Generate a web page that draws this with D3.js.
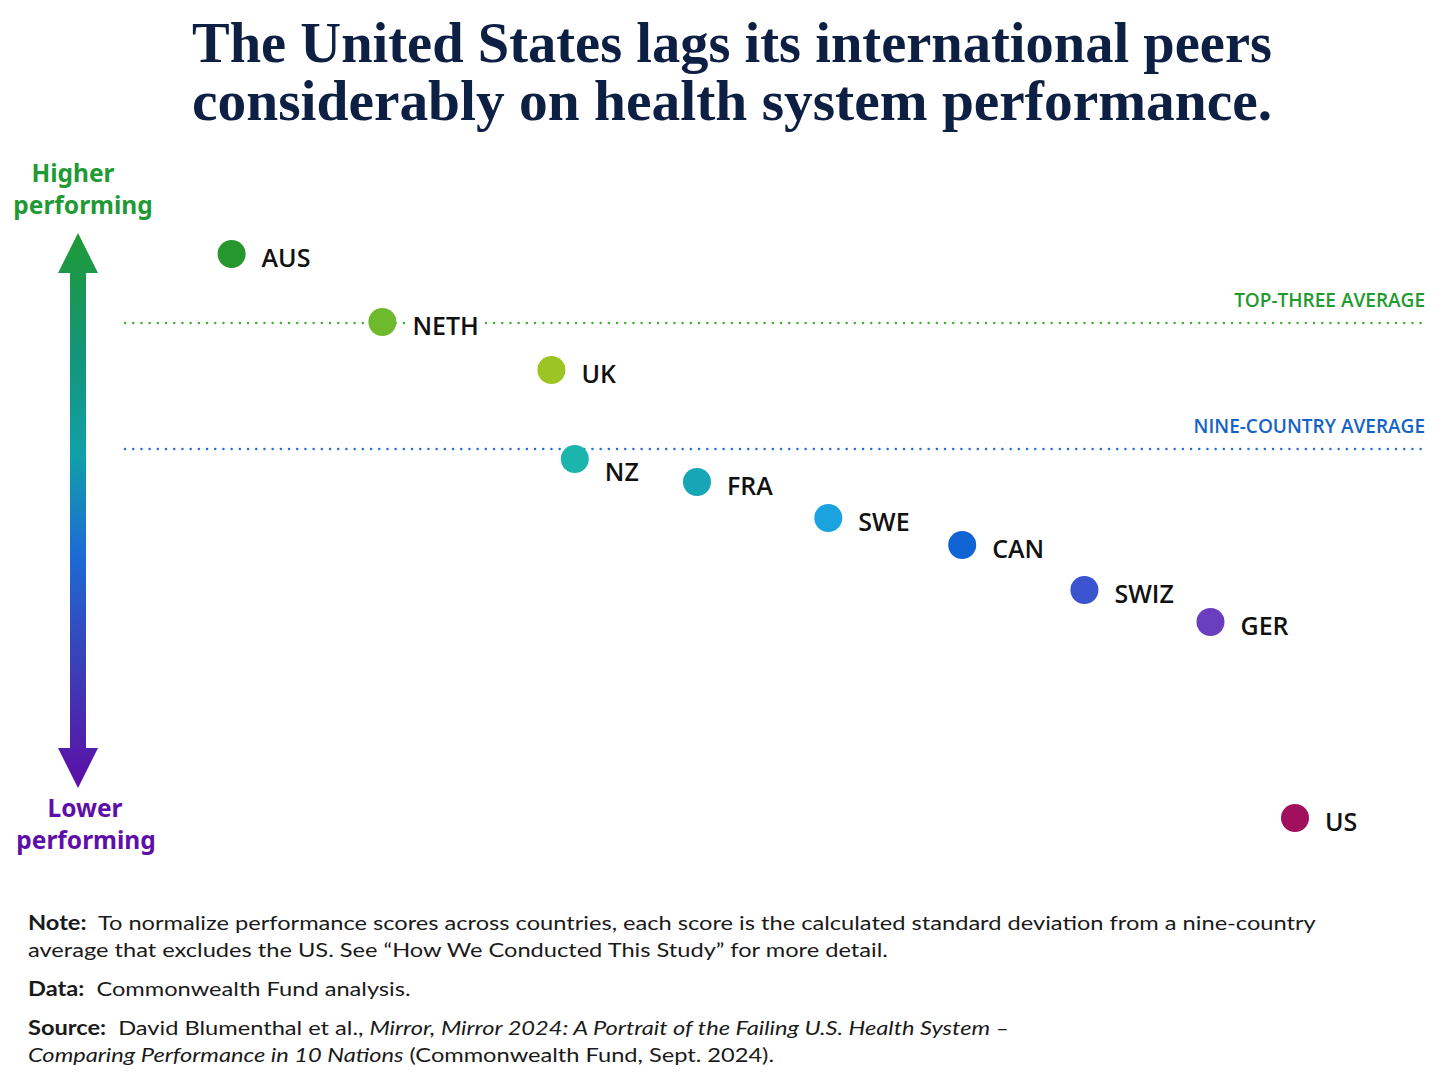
<!DOCTYPE html>
<html>
<head>
<meta charset="utf-8">
<script src="https://cdn.jsdelivr.net/npm/d3@7"></script>
<style>
  body { margin: 0; background: #fff; }
  svg { display: block; }
</style>
</head>
<body>
<div id="chart"></div>
<script>
// country scores: standard deviations from the nine-country average (US excluded)
const countries = ["AUS", "NETH", "UK", "NZ", "FRA", "SWE", "CAN", "SWIZ", "GER", "US"];
const scores = [0.39, 0.254, 0.158, -0.02, -0.066, -0.138, -0.192, -0.282, -0.346, -0.738];
// horizontal placement (rank spread), 0-100
const spread = [8.2, 19.8, 32.8, 34.6, 44, 54.1, 64.4, 73.8, 83.5, 90];
const dotColors = ["#26962f", "#6fb92c", "#9cc524", "#1cb5ae", "#17a6b5", "#1ba3e0",
                   "#0f63d3", "#3a53cf", "#6a3fbf", "#a0105c"];
const averages = [
  {name: "TOP-THREE AVERAGE", value: 0.252, color: "#1f9a2e", dot: "#3db02c"},
  {name: "NINE-COUNTRY AVERAGE", value: 0, color: "#1463c6", dot: "#1f6fd6"}
];
const titleLines = ["The United States lags its international peers",
                    "considerably on health system performance."];

const width = 1448, height = 1086;

const svg = d3.select("#chart").append("svg")
  .attr("width", width)
  .attr("height", height);

const xScale = d3.scaleLinear().domain([0, 100]).range([125, 1425]);
const yScale = d3.scaleLinear().domain([0, 1]).range([449, -51]);

// title
svg.append("g").selectAll("text")
  .data(titleLines)
  .enter()
  .append("text")
    .attr("x", 732)
    .attr("y", (d, i) => 62 + i * 58)
    .attr("text-anchor", "middle")
    .attr("textLength", 1080)
    .attr("lengthAdjust", "spacingAndGlyphs")
    .attr("font-family", "Liberation Serif, serif")
    .attr("font-weight", "bold")
    .attr("font-size", 56)
    .attr("fill", "#0e1f44")
    .text(d => d);

// gradient arrow on the left
const defs = svg.append("defs");
const grad = defs.append("linearGradient")
  .attr("id", "perfGrad")
  .attr("gradientUnits", "userSpaceOnUse")
  .attr("x1", 0).attr("y1", 233).attr("x2", 0).attr("y2", 788);
[["0%", "#1f9a35"], ["22%", "#14957a"], ["40%", "#10a0a8"], ["58%", "#1d6ad6"],
 ["78%", "#3b3fb8"], ["100%", "#5c0ea6"]].forEach(s => {
  grad.append("stop").attr("offset", s[0]).attr("stop-color", s[1]);
});

const ax = 78;
const arrowPath = d3.path();
arrowPath.moveTo(ax, 233);
arrowPath.lineTo(ax + 20, 273);
arrowPath.lineTo(ax + 8, 273);
arrowPath.lineTo(ax + 8, 748);
arrowPath.lineTo(ax + 20, 748);
arrowPath.lineTo(ax, 788);
arrowPath.lineTo(ax - 20, 748);
arrowPath.lineTo(ax - 8, 748);
arrowPath.lineTo(ax - 8, 273);
arrowPath.lineTo(ax - 20, 273);
arrowPath.closePath();
svg.append("path")
  .attr("d", arrowPath.toString())
  .attr("fill", "url(#perfGrad)");

const endLabels = [
  {lines: ["Higher", "performing"], y: 182, color: "#1f9a35", cx: [73, 83]},
  {lines: ["Lower", "performing"], y: 817, color: "#5e0fa8", cx: [85, 86]}
];
endLabels.forEach(lab => {
  lab.lines.forEach((t, i) => {
    svg.append("text")
      .attr("x", lab.cx[i])
      .attr("y", lab.y + i * 32)
      .attr("text-anchor", "middle")
      .attr("font-family", "Noto Sans, sans-serif")
      .attr("font-weight", "bold")
      .attr("font-size", 24.5)
      .attr("fill", lab.color)
      .text(t);
  });
});

// average reference lines
const avg = svg.append("g").selectAll("g")
  .data(averages)
  .enter()
  .append("g");

avg.append("line")
  .attr("x1", xScale(0))
  .attr("x2", xScale(100))
  .attr("y1", d => yScale(d.value))
  .attr("y2", d => yScale(d.value))
  .attr("stroke", d => d.dot)
  .attr("stroke-width", 2.4)
  .attr("stroke-linecap", "round")
  .attr("stroke-dasharray", "0.1 8.1");

avg.append("text")
  .attr("x", xScale(100))
  .attr("y", d => yScale(d.value) - 16)
  .attr("text-anchor", "end")
  .attr("font-family", "Open Sans, sans-serif")
  .attr("font-weight", 600)
  .attr("font-size", 19)
  .attr("fill", d => d.color)
  .text(d => d.name);

// country dots
const data = countries.map((c, i) => ({country: c, score: scores[i], pos: spread[i], color: dotColors[i]}));

const pts = svg.append("g").selectAll("g")
  .data(data)
  .enter()
  .append("g");

pts.append("circle")
  .attr("cx", d => xScale(d.pos))
  .attr("cy", d => yScale(d.score))
  .attr("r", 14)
  .attr("fill", d => d.color);

const labels = pts.append("text")
  .attr("x", d => xScale(d.pos) + 30)
  .attr("y", d => yScale(d.score) + (d.country == "NZ" ? 22 : 13))
  .attr("font-family", "Open Sans, sans-serif")
  .attr("font-weight", 600)
  .attr("font-size", 25)
  .attr("fill", "#111")
  .text(d => d.country);

// white backing so dotted lines break around labels
labels.each(function() {
  const b = this.getBBox();
  d3.select(this.parentNode).insert("rect", "text")
    .attr("x", b.x - 6)
    .attr("y", b.y + 4)
    .attr("width", b.width + 12)
    .attr("height", b.height - 8)
    .attr("fill", "#fff");
});

// footnotes
const notes = [
  {y: 930, parts: [["Note:", "b"], ["  To normalize performance scores across countries, each score is the calculated standard deviation from a nine-country", ""]]},
  {y: 957, parts: [["average that excludes the US. See \u201CHow We Conducted This Study\u201D for more detail.", ""]]},
  {y: 996, parts: [["Data:", "b"], ["  Commonwealth Fund analysis.", ""]]},
  {y: 1035, parts: [["Source:", "b"], ["  David Blumenthal et al., ", ""], ["Mirror, Mirror 2024: A Portrait of the Failing U.S. Health System \u2013", "i"]]},
  {y: 1062, parts: [["Comparing Performance in 10 Nations", "i"], [" (Commonwealth Fund, Sept. 2024).", ""]]}
];
const noteText = svg.append("g").selectAll("text")
  .data(notes)
  .enter()
  .append("text")
    .attr("x", 28)
    .attr("y", d => d.y)
    .attr("font-family", "Lato, sans-serif")
    .attr("font-size", 20)
    .attr("fill", "#1a1a1a")
    .style("white-space", "pre");
noteText.each(function(n) {
  const t = d3.select(this);
  n.parts.forEach(p => {
    t.append("tspan")
      .attr("font-weight", p[1] == "b" ? "bold" : "normal")
      .attr("font-style", p[1] == "i" ? "italic" : "normal")
      .text(p[0]);
  });
});
// widen glyphs to the reference line length (first line ends near x=1317)
const firstW = noteText.node().getComputedTextLength();
const stretch = 1289 / firstW;
noteText.attr("transform", `translate(28,0) scale(${stretch},1) translate(-28,0)`);
</script>
</body>
</html>
